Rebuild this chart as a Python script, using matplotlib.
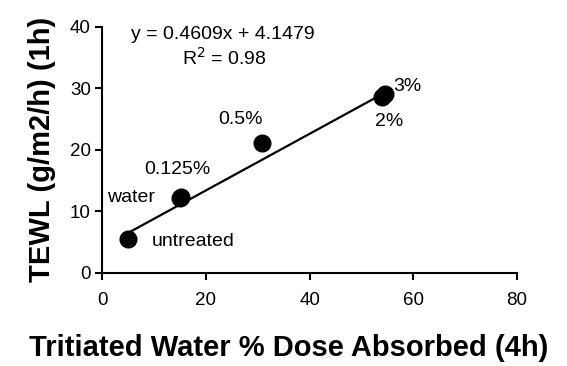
import numpy as np
import matplotlib
matplotlib.use('Agg')
import matplotlib.pyplot as plt

plt.rcParams['font.family'] = ['Liberation Sans', 'DejaVu Sans']

# data
labels = ['untreated', 'water', '0.125%', '0.5%', '2%', '3%']
dose = [5.0, 15.0, 15.3, 30.8, 54.0, 54.6]
tewl = [5.5, 12.2, 12.3, 21.1, 28.6, 29.1]
slope, intercept = 0.4609, 4.1479
fit_x = [5.0, 54.6]

# label anchor points
label_pos = {'untreated': (9.6, 5.0, 'left'), 'water': (10.3, 12.3, 'right'),
             '0.125%': (14.6, 16.8, 'center'), '0.5%': (26.6, 24.9, 'center'),
             '2%': (55.3, 24.6, 'center'), '3%': (56.2, 30.3, 'left')}

fig = plt.figure(figsize=(5.67, 3.66), dpi=100)
ax = fig.add_axes([0.18, 0.255, 0.732, 0.672])

fx = np.array(fit_x)
ax.plot(fx, slope * fx + intercept, color='black', lw=1.6)
ax.plot(dose, tewl, 'o', color='black', ms=12)

for lab in labels:
    x, y, ha = label_pos[lab]
    ax.text(x, y, lab, fontsize=14, ha=ha, va='center')

ax.text(23.3, 38.7, 'y = 0.4609x + 4.1479', fontsize=14, ha='center', va='center')
ax.text(23.5, 35.0, r'R$^2$ = 0.98', fontsize=14, ha='center', va='center')

ax.set_xlim(0, 80)
ax.set_ylim(0, 40)
ax.set_xticks([0, 20, 40, 60, 80])
ax.set_yticks([0, 10, 20, 30, 40])
ax.spines['top'].set_visible(False)
ax.spines['right'].set_visible(False)
ax.spines['left'].set_linewidth(1.5)
ax.spines['bottom'].set_linewidth(1.5)
ax.tick_params(axis='x', direction='out', length=5, width=1.5, labelsize=13.5, pad=9)
ax.tick_params(axis='y', direction='out', length=5, width=1.5, labelsize=13.5, pad=3)

ax.set_xlabel('Tritiated Water % Dose Absorbed (4h)', fontsize=21, fontweight='bold')
ax.xaxis.set_label_coords(0.45, -0.25)
ax.set_ylabel('TEWL (g/m2/h) (1h)', fontsize=21, fontweight='bold', labelpad=10)

plt.savefig('out.png', dpi=100)
